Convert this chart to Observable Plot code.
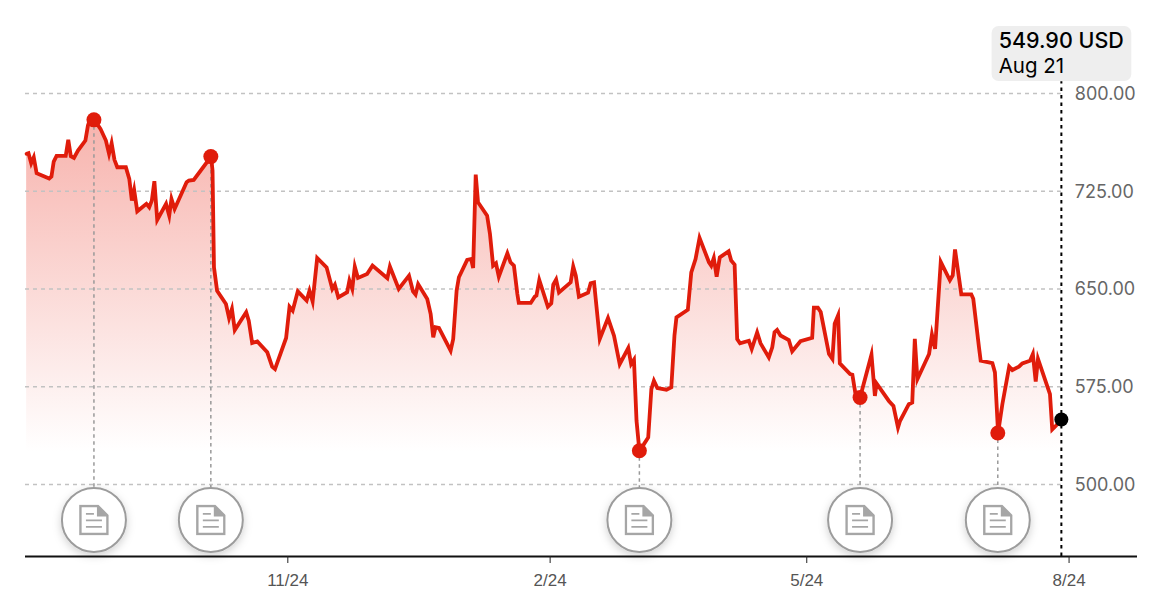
<!DOCTYPE html>
<html><head><meta charset="utf-8">
<script src="https://cdn.jsdelivr.net/npm/d3@7"></script>
<script src="https://cdn.jsdelivr.net/npm/@observablehq/plot@0.6"></script>
<style>html,body{margin:0;background:#fff;overflow:hidden}svg{display:block}</style>
</head><body><div id="chart"></div>
<script>
const startDate = "2023-08-24";
const days = [0.4,1.05,2,2.9,3.9,5.8,8.3,9.1,9.9,10.9,14.1,15,15.9,17,18.4,21,21.9,22.6,24.2,26.3,28.2,29.3,30.2,31.2,32.2,35.2,36.4,37.3,38.1,39.2,42.4,43.4,44.3,45.2,46.2,49.3,50.4,51.2,52.3,56.5,57.3,59,65.1,65.6,66.1,67.2,70.3,71.4,72.4,73.4,77.4,78.3,79.5,81.3,84.8,86.5,87.5,91.4,92.6,93.7,95.5,98.6,99.6,100.7,102.3,105.6,107.6,108.5,109.7,112.8,113.6,114.6,115.5,116.6,119.8,121.7,126.9,
127.8,130.9,134.5,135.9,136.8,137.7,140.9,142.1,143,143.8,145,149.1,150,151.2,152,154.9,156.3,157,157.9,158.7,161.9,162.9,164,165,166,169,170.1,171.3,172.5,173,177.2,178.6,179.2,180.2,183.2,184.4,185.1,186.1,187.1,191.2,192.1,193,194.1,197.3,198.2,199.4,201.4,204.3,206.4,208.4,211.4,212.4,213.4,214.3,215.3,216.9,218.4,219.5,220.4,221.6,224.8,226.5,227.6,228.3,232.3,233.5,235,236.4,239.7,240.5,241.4,242.4,243.5,246.6,247.5,248.7,249.6,250.6,253.7,254.7,256.6,257.8,260.7,
261.9,262.7,263.6,264.8,267.7,268.9,271.8,275.9,276.5,277.9,278.9,281.8,283,283.8,285,285.6,289.2,290,291.1,292.7,296.7,297.9,298.5,302.8,304.4,306,306.7,309.8,311,311.9,312.8,316.9,317.9,319,319.8,321,324.2,325.2,326,328.2,331.7,332.4,334.4,335,339.1,340,341.1,342.6,345,346.1,348.4,349.6,352.3,353.3,354.3,355.1,359.3,360.1,361.3,363.3];
const prices = [753.7,754.2,746.5,751.1,738.8,737,734.7,736.3,747.8,752.1,752.1,764.4,751.9,750.6,756.2,763.9,775.4,779.8,779.8,772.9,763.9,753.7,761.9,749.1,743.4,743.4,734.5,717.8,726,709.6,715.3,712.7,717.8,732.7,703,715.3,706.3,719.1,711.4,731.9,733.2,733.7,751.6,740.9,666.6,648.7,638.5,627.7,634.7,618.5,632.1,625.7,608.5,609.8,601.4,590.4,588.6,612.4,636.4,633.4,648.2,641.1,648.7,640.5,673.8,666.6,650,653.3,643.6,647.5,656.4,650,667.2,658.5,661.5,667.9,658.2,
667.2,650,660.2,648.2,645.7,653.8,642.3,630.8,612.9,620.6,620.1,602.7,611.6,648.7,659,672.3,673,666.1,737.8,716.6,706.3,692.2,667.9,669.7,659.5,677.4,670.5,667.9,646.2,639.3,639.3,644.1,644.9,656.9,636.4,639,653.3,657.2,647.4,655.1,667.2,660.2,644.1,647.2,654.4,655.1,611.6,627.7,614.2,592.4,604.7,592.4,595.7,548.9,525.9,531,536.1,573.2,579.6,574,572.7,574.5,614.2,628.2,634.1,662.8,673,689.2,670.5,667.9,673.8,659.5,674.3,678.9,671.8,668.7,611.6,608.3,610.3,603.9,616.7,608.3,597.5,
605.3,616.8,618.6,614.3,610.9,602.2,609.9,612.5,635.6,635.6,632.3,600.1,596.3,623.3,629.7,592.9,584.7,584.2,569.3,566.7,599.6,568,577.5,564.1,560.3,543.6,548.7,561.6,562.9,611.7,580.8,600.1,615,604,631,670.8,656.7,660.5,680.3,645.9,645.9,642.5,605.3,595,593.2,586,539.5,561.6,590.4,587.8,590.4,592.9,595,600.1,579,596.3,569.3,542.3,544.9,549.9];
const eventDays = [24.0,65.0,215.3,292.7,341.0];
const eventPrices = [779.8,751.6,525.9,566.7,539.5];
const yTicks = [500,575,650,725,800];
const xTickDates = ["2023-11-24","2024-02-24","2024-05-24","2024-08-24"];
const lastLabel = ["549.90 USD","Aug 21"];
const colors = {line:"#e01c0b", grid:"#c2c2c2", label:"#666666", rule:"#999999"};

const t0 = Date.parse(startDate);
const toDate = d => new Date(t0 + d*864e5);
const data = days.map((d,i)=>({date:toDate(d),price:prices[i]}));
const events = eventDays.map((d,i)=>({date:toDate(d),price:eventPrices[i]}));
const last = data[data.length-1];
const laneValue = 472.8, baseValue = 525, yMin = 444.75, yMax = 871.36;

const iconSvg = `<svg xmlns="http://www.w3.org/2000/svg" width="30" height="31" viewBox="0 0 30 31"><path d="M1.5 1.5H19L28.5 11V29.5H1.5Z" fill="#fff" stroke="#a6a6a6" stroke-width="2.4"/><path d="M18 1L29 12H18Z" fill="#a6a6a6"/><path d="M7 9.5H15M7 16H23M7 22.5H23" stroke="#a6a6a6" stroke-width="1.8" fill="none"/></svg>`;
const iconSrc = "data:image/svg+xml;utf8,"+encodeURIComponent(iconSvg);

const defs = () => {
  const s = d3.create("svg:defs");
  const g = s.append("linearGradient").attr("id","areaFade").attr("x1",0).attr("y1",0).attr("x2",0).attr("y2",1);
  g.append("stop").attr("offset","0%").attr("stop-color","#f7b3ad");
  g.append("stop").attr("offset","100%").attr("stop-color","#ffffff");
  const f = s.append("filter").attr("id","softShadow").attr("x","-30%").attr("y","-30%").attr("width","160%").attr("height","170%");
  f.append("feDropShadow").attr("dx",0).attr("dy",3).attr("stdDeviation",4).attr("flood-color","#000").attr("flood-opacity",0.18);
  return s.node();
};
const shadow = (i,s,v,d,c,next)=>{const g=next(i,s,v,d,c); g.setAttribute("filter","url(#softShadow)"); return g;};

const plot = Plot.plot({
  width:1157,height:611,marginTop:0,marginRight:20,marginBottom:55,marginLeft:25,
  style:{fontFamily:"Inter, 'Liberation Sans', sans-serif",background:"#fff",overflow:"visible"},
  x:{type:"utc",domain:[toDate(0),toDate(390)],label:null},
  y:{domain:[yMin,yMax],label:null,axis:null},
  marks:[
    defs,
    Plot.areaY(data,{x:"date",y1:baseValue,y2:"price",fill:"url(#areaFade)"}),
    Plot.ruleY(yTicks,{x1:toDate(0),x2:last.date,stroke:colors.grid,strokeWidth:1.4,strokeDasharray:"4 4"}),
    Plot.ruleX(events,{x:"date",y1:"price",y2:laneValue,stroke:colors.rule,strokeWidth:1.5,strokeDasharray:"3.5 3.5"}),
    Plot.ruleX([last],{x:"date",y1:yMin,y2:809,stroke:"#000",strokeWidth:2,strokeDasharray:"3.5 4"}),
    Plot.line(data,{x:"date",y:"price",stroke:colors.line,strokeWidth:3.8,strokeLinejoin:"miter",strokeMiterlimit:6}),
    Plot.dot(events,{x:"date",y:"price",r:7.5,fill:colors.line}),
    Plot.dot([last],{x:"date",y:"price",r:7,fill:"#000"}),
    Plot.dot(events,{x:"date",y:()=>laneValue,r:32,fill:"#fff",stroke:"#9c9c9c",strokeWidth:2,render:shadow}),
    Plot.image(events,{x:"date",y:()=>laneValue,src:()=>iconSrc,width:30,height:31}),
    Plot.ruleY([yMin],{x1:toDate(0),x2:toDate(390),stroke:"#111",strokeWidth:2}),
    Plot.axisX({ticks:xTickDates.map(d=>new Date(d)),tickFormat:d3.utcFormat("%-m/%-d"),tickSize:7,tickPadding:10,stroke:"#222",fill:"#555",fontSize:17,fontFamily:"'Liberation Sans', sans-serif",label:null}),
    Plot.text(yTicks,{x:toDate(368),y:d=>d-0.5,text:d=>d.toFixed(2),textAnchor:"start",fill:colors.label,fontSize:18}),
    Plot.rect([{}],{x1:toDate(339),x2:toDate(388),y1:809.2,y2:851.4,fill:"#eeeeee",rx:7}),
    Plot.text([lastLabel[0]],{x:toDate(341.3),y:840.2,text:d=>d,textAnchor:"start",fill:"#000",fontSize:21.5,fontWeight:500}),
    Plot.text([lastLabel[1]],{x:toDate(341.3),y:820.7,text:d=>d,textAnchor:"start",fill:"#000",fontSize:20.5})
  ]
});
document.getElementById("chart").append(plot);
</script></body></html>
